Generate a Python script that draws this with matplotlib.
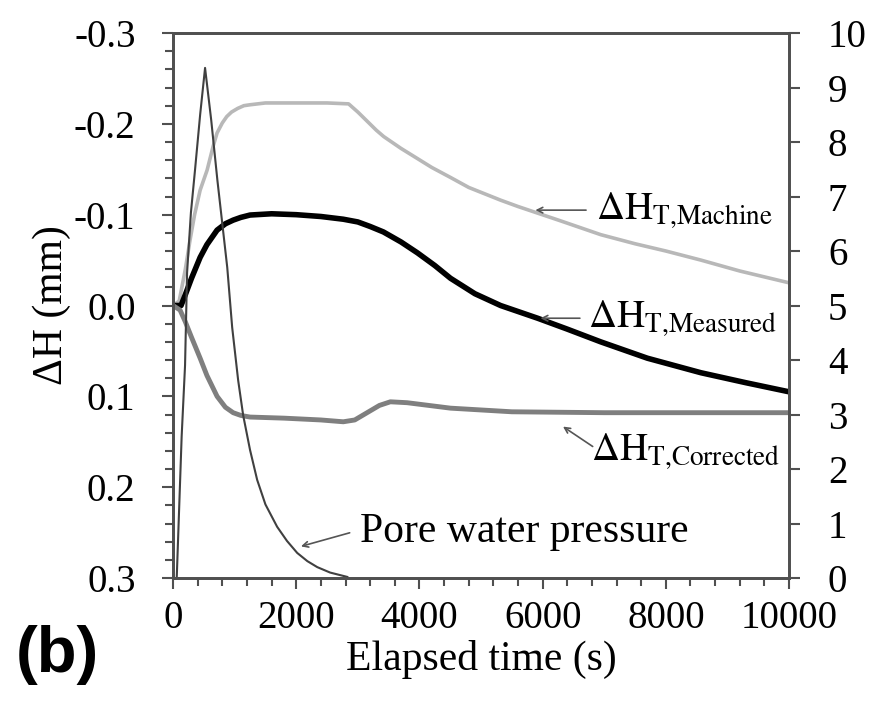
import matplotlib
matplotlib.use('Agg')
import matplotlib.pyplot as plt
from matplotlib.ticker import MultipleLocator, FormatStrFormatter

plt.rcParams['font.family'] = ['Liberation Serif', 'DejaVu Serif']
plt.rcParams['mathtext.fontset'] = 'stix'
plt.rcParams['axes.unicode_minus'] = False

# DATA
# Delta H_T,Machine (mm)
t_machine = [0, 100, 200, 276, 350, 440, 553, 650, 715, 800, 872, 950, 1050, 1150, 1250, 1500,
             2000, 2500, 2850, 3000, 3150, 3300, 3420, 3700, 3962, 4200, 4504, 4800, 5317, 5600,
             6300, 6943, 7500, 8000, 8569, 9200, 10000]
dh_machine = [0.0, -0.005, -0.040, -0.072, -0.100, -0.127, -0.149, -0.175, -0.190, -0.201, -0.208,
              -0.213, -0.217, -0.220, -0.221, -0.223, -0.223, -0.223, -0.222, -0.213, -0.203, -0.193,
              -0.186, -0.173, -0.162, -0.152, -0.141, -0.130, -0.116, -0.109, -0.093, -0.078, -0.068,
              -0.060, -0.050, -0.038, -0.025]

# Delta H_T,Measured (mm)
t_measured = [0, 130, 200, 300, 440, 550, 715, 850, 976, 1100, 1250, 1600, 2000, 2400, 2764, 3000,
              3200, 3415, 3700, 3967, 4250, 4504, 4900, 5317, 5919, 6400, 6943, 7700, 8569, 9300, 10000]
dh_measured = [0.0, 0.0, -0.012, -0.030, -0.053, -0.067, -0.083, -0.090, -0.094, -0.097, -0.0996,
               -0.101, -0.100, -0.098, -0.095, -0.092, -0.087, -0.081, -0.070, -0.058, -0.044, -0.030,
               -0.013, 0.000, 0.014, 0.026, 0.040, 0.058, 0.074, 0.085, 0.095]

# Delta H_T,Corrected (mm)
t_corrected = [0, 114, 200, 300, 440, 550, 715, 850, 976, 1100, 1250, 1800, 2400, 2764, 2950, 3150,
               3350, 3528, 3800, 4504, 5500, 7000, 10000]
dh_corrected = [0.0, 0.005, 0.018, 0.035, 0.058, 0.077, 0.100, 0.112, 0.118, 0.121, 0.1228, 0.124,
                 0.126, 0.128, 0.126, 0.118, 0.110, 0.106, 0.107, 0.113, 0.117, 0.118, 0.118]

# Pore water pressure (right axis)
t_pore = [60, 140, 195, 228, 290, 358, 440, 520, 620, 720, 800, 880, 960, 1057, 1138, 1250, 1366,
          1500, 1690, 1850, 2016, 2180, 2341, 2550, 2829]
u_pore = [0.0, 2.6, 3.9, 5.6, 6.7, 7.5, 8.5, 9.36, 8.4, 7.3, 6.5, 5.7, 4.6, 3.63, 2.99, 2.35, 1.80,
          1.35, 0.94, 0.68, 0.46, 0.31, 0.20, 0.10, 0.02]

fig = plt.figure(figsize=(8.77, 7.10), dpi=100)
ax = fig.add_axes([0.1973, 0.1859, 0.7024, 0.7676])
ax2 = ax.twinx()

ax.plot(t_machine, dh_machine, color='#b8b8b8', lw=2.6)
ax.plot(t_measured, dh_measured, color='black', lw=4)
ax.plot(t_corrected, dh_corrected, color='#7f7f7f', lw=3.5)
ax2.plot(t_pore, u_pore, color='#404040', lw=1.5)

ax.set_xlim(0, 10000)
ax.set_ylim(0.3, -0.3)
ax2.set_ylim(0, 10)

spine_col = '#505050'
for a in (ax, ax2):
    for s in a.spines.values():
        s.set_color(spine_col)
        s.set_linewidth(2)

ax.xaxis.set_major_locator(MultipleLocator(2000))
ax.xaxis.set_minor_locator(MultipleLocator(400))
ax.yaxis.set_major_locator(MultipleLocator(0.1))
ax.yaxis.set_minor_locator(MultipleLocator(0.02))
ax.yaxis.set_major_formatter(FormatStrFormatter('%.1f'))
ax2.yaxis.set_major_locator(MultipleLocator(1))

ax.tick_params(which='major', direction='out', length=8, width=1.5, color=spine_col, labelsize=28)
ax.tick_params(which='minor', direction='out', length=6, width=1.5, color=spine_col)
ax.tick_params(axis='y', which='major', pad=19)
ax.tick_params(axis='x', which='major', pad=8)
ax2.tick_params(which='major', direction='out', length=8, width=1.5, color=spine_col, labelsize=28, pad=20)

ax.set_xlabel('Elapsed time (s)', fontsize=30, labelpad=2)
ax.set_ylabel('ΔH (mm)', fontsize=30, labelpad=2)

# annotations
arrow = dict(arrowstyle='->', color='#555555', lw=1.2)
ax.annotate('', xy=(5837, -0.105), xytext=(6750, -0.105), arrowprops=arrow)
ax.text(6860, -0.105, r'$\Delta\mathrm{H}_{\mathrm{T{,}Machine}}$', fontsize=28, va='center', ha='left')
ax.annotate('', xy=(5919, 0.014), xytext=(6650, 0.014), arrowprops=arrow)
ax.text(6740, 0.014, r'$\Delta\mathrm{H}_{\mathrm{T{,}Measured}}$', fontsize=28, va='center', ha='left')
ax.annotate('', xy=(6293, 0.1316), xytext=(6850, 0.1569), arrowprops=arrow)
ax.text(6780, 0.160, r'$\Delta\mathrm{H}_{\mathrm{T{,}Corrected}}$', fontsize=28, va='center', ha='left')
ax.annotate('', xy=(2033, 0.266), xytext=(2911, 0.2494), arrowprops=arrow)
ax.text(3041, 0.249, 'Pore water pressure', fontsize=30, va='center', ha='left')

fig.text(0.018, 0.078, '(b)', fontsize=47, fontweight='bold', family='Liberation Sans', va='center', ha='left')

fig.savefig('out.png', dpi=100, facecolor='white')
